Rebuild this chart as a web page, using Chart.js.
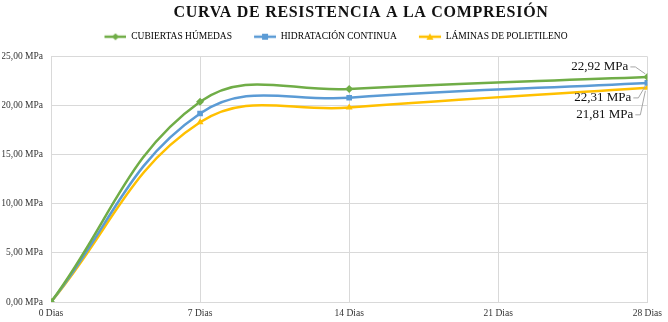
<!DOCTYPE html>
<html>
<head>
<meta charset="utf-8">
<script src="https://cdn.jsdelivr.net/npm/chart.js@4.4.1/dist/chart.umd.min.js"></script>
<style>
html,body{margin:0;padding:0;background:#fff;}
#wrap{width:668px;height:322px;position:relative;}
</style>
</head>
<body>
<div id="wrap"><canvas id="c" width="668" height="322"></canvas></div>
<script>
const chartTitle = 'CURVA DE RESISTENCIA A LA COMPRESIÓN';
const days = [0, 7, 14, 28];
const xTicks = [0, 7, 14, 21, 28];
const seriesNames = ['CUBIERTAS HÚMEDAS', 'HIDRATACIÓN CONTINUA', 'LÁMINAS DE POLIETILENO'];
const cubiertas = [0, 20.4, 21.7, 22.92];
const hidratacion = [0, 19.2, 20.8, 22.31];
const laminas = [0, 18.3, 19.8, 21.81];
const yTicks = [0, 5, 10, 15, 20, 25];

const colors = ['#70AD47', '#5B9BD5', '#FFC000'];
const markers = ['rectRot', 'rect', 'triangle'];
const serif = '"Liberation Serif", "Times New Roman", serif';

function fmt(v){ return v.toFixed(2).replace('.', ',') + ' MPa'; }

function legendIcon(color, marker){
  const cv = document.createElement('canvas');
  cv.width = 24; cv.height = 8;
  const g = cv.getContext('2d');
  g.strokeStyle = color; g.lineWidth = 2.5;
  g.beginPath(); g.moveTo(2, 4); g.lineTo(24, 4); g.stroke();
  g.fillStyle = color;
  g.beginPath();
  const c = 13;
  if (marker === 'rect') { g.rect(c - 3, 1, 6, 6); }
  else if (marker === 'rectRot') { g.moveTo(c, 0.5); g.lineTo(c + 3.5, 4); g.lineTo(c, 7.5); g.lineTo(c - 3.5, 4); g.closePath(); }
  else { g.moveTo(c, 0.5); g.lineTo(c + 3.5, 7); g.lineTo(c - 3.5, 7); g.closePath(); }
  g.fill();
  return cv;
}

function toPts(vals){ return days.map((d, i) => ({x: d, y: vals[i]})); }

const allSeries = [cubiertas, hidratacion, laminas];
const datasets = allSeries.map((vals, i) => ({
  label: seriesNames[i],
  data: toPts(vals),
  borderColor: colors[i],
  backgroundColor: colors[i],
  borderWidth: 2.5,
  tension: 0.4,
  pointStyle: markers[i],
  pointRadius: 4,
  pointBorderWidth: 0,
  pointBackgroundColor: colors[i],
  fill: false,
  xAxisID: 'x',
  yAxisID: 'y'
}));

// data label offsets (pixels from the final point)
const labelOffsets = [{dx: -19, dy: -10}, {dx: -16, dy: 15}, {dx: -14, dy: 27}];

const overlay = {
  id: 'overlay',
  afterDraw(chart){
    const ctx = chart.ctx;
    ctx.save();
    ctx.font = 'bold 16px ' + serif;
    ctx.fillStyle = '#111';
    ctx.textAlign = 'center';
    ctx.textBaseline = 'middle';
    if ('letterSpacing' in ctx) ctx.letterSpacing = '0.7px';
    ctx.fillText(chartTitle, 361, 13);
    ctx.restore();

    ctx.save();
    ctx.font = '13px ' + serif;
    ctx.fillStyle = '#111';
    ctx.textAlign = 'right';
    ctx.textBaseline = 'middle';
    ctx.strokeStyle = '#a6a6a6';
    ctx.lineWidth = 1;
    chart.data.datasets.forEach((ds, i) => {
      const meta = chart.getDatasetMeta(i);
      const pt = meta.data[meta.data.length - 1];
      const v = allSeries[i][allSeries[i].length - 1];
      const o = labelOffsets[i];
      const tx = pt.x + o.dx, ty = pt.y + o.dy;
      ctx.beginPath();
      ctx.moveTo(tx + 2, ty);
      ctx.lineTo(tx + 7, ty);
      ctx.lineTo(pt.x - 2, pt.y + (o.dy < 0 ? -3 : 3));
      ctx.stroke();
      ctx.fillText(fmt(v), tx, ty);
    });
    ctx.restore();
  }
};

new Chart(document.getElementById('c'), {
  type: 'line',
  data: { datasets },
  options: {
    responsive: false,
    animation: false,
    layout: { padding: { top: 12, right: 0, left: 2, bottom: 0 } },
    plugins: {
      title: { display: false },
      tooltip: { enabled: false },
      legend: {
        display: true,
        position: 'top',
        labels: {
          usePointStyle: true,
          pointStyleWidth: 24,
          padding: 20,
          color: '#404040',
          font: { family: serif, size: 9.5 },
          generateLabels(chart){
            return chart.data.datasets.map((ds, i) => ({
              text: ds.label,
              fillStyle: colors[i],
              strokeStyle: colors[i],
              lineWidth: 0,
              pointStyle: legendIcon(colors[i], markers[i]),
              datasetIndex: i,
              hidden: false
            }));
          }
        }
      }
    },
    scales: {
      x: {
        type: 'linear',
        min: 0, max: 28,
        afterBuildTicks(s){ s.ticks = xTicks.map(v => ({value: v})); },
        afterFit(s){ s.height = 20; },
        grid: { color: '#d9d9d9', drawTicks: false },
        border: { color: '#d9d9d9' },
        ticks: {
          padding: 6,
          maxRotation: 0,
          color: '#333',
          font: { family: serif, size: 9.5 },
          callback: v => v + ' Dias'
        }
      },
      xTop: {
        type: 'linear',
        position: 'top',
        min: 0, max: 28,
        display: true,
        afterFit(s){ s.height = 5; },
        grid: { display: false, drawTicks: false },
        border: { display: false },
        ticks: { display: false }
      },
      y: {
        min: 0, max: 25,
        position: 'left',
        afterBuildTicks(s){ s.ticks = yTicks.map(v => ({value: v})); },
        afterFit(s){ s.width = 49; },
        grid: { color: '#d9d9d9', drawTicks: false },
        border: { display: false },
        ticks: {
          padding: 8,
          color: '#333',
          font: { family: serif, size: 9.5 },
          callback: v => fmt(v)
        }
      },
      yRight: {
        min: 0, max: 25,
        position: 'right',
        display: true,
        afterFit(s){ s.width = 15; },
        grid: { display: false, drawTicks: false },
        border: { display: false },
        ticks: { display: false }
      }
    }
  },
  plugins: [overlay]
});
</script>
</body>
</html>
